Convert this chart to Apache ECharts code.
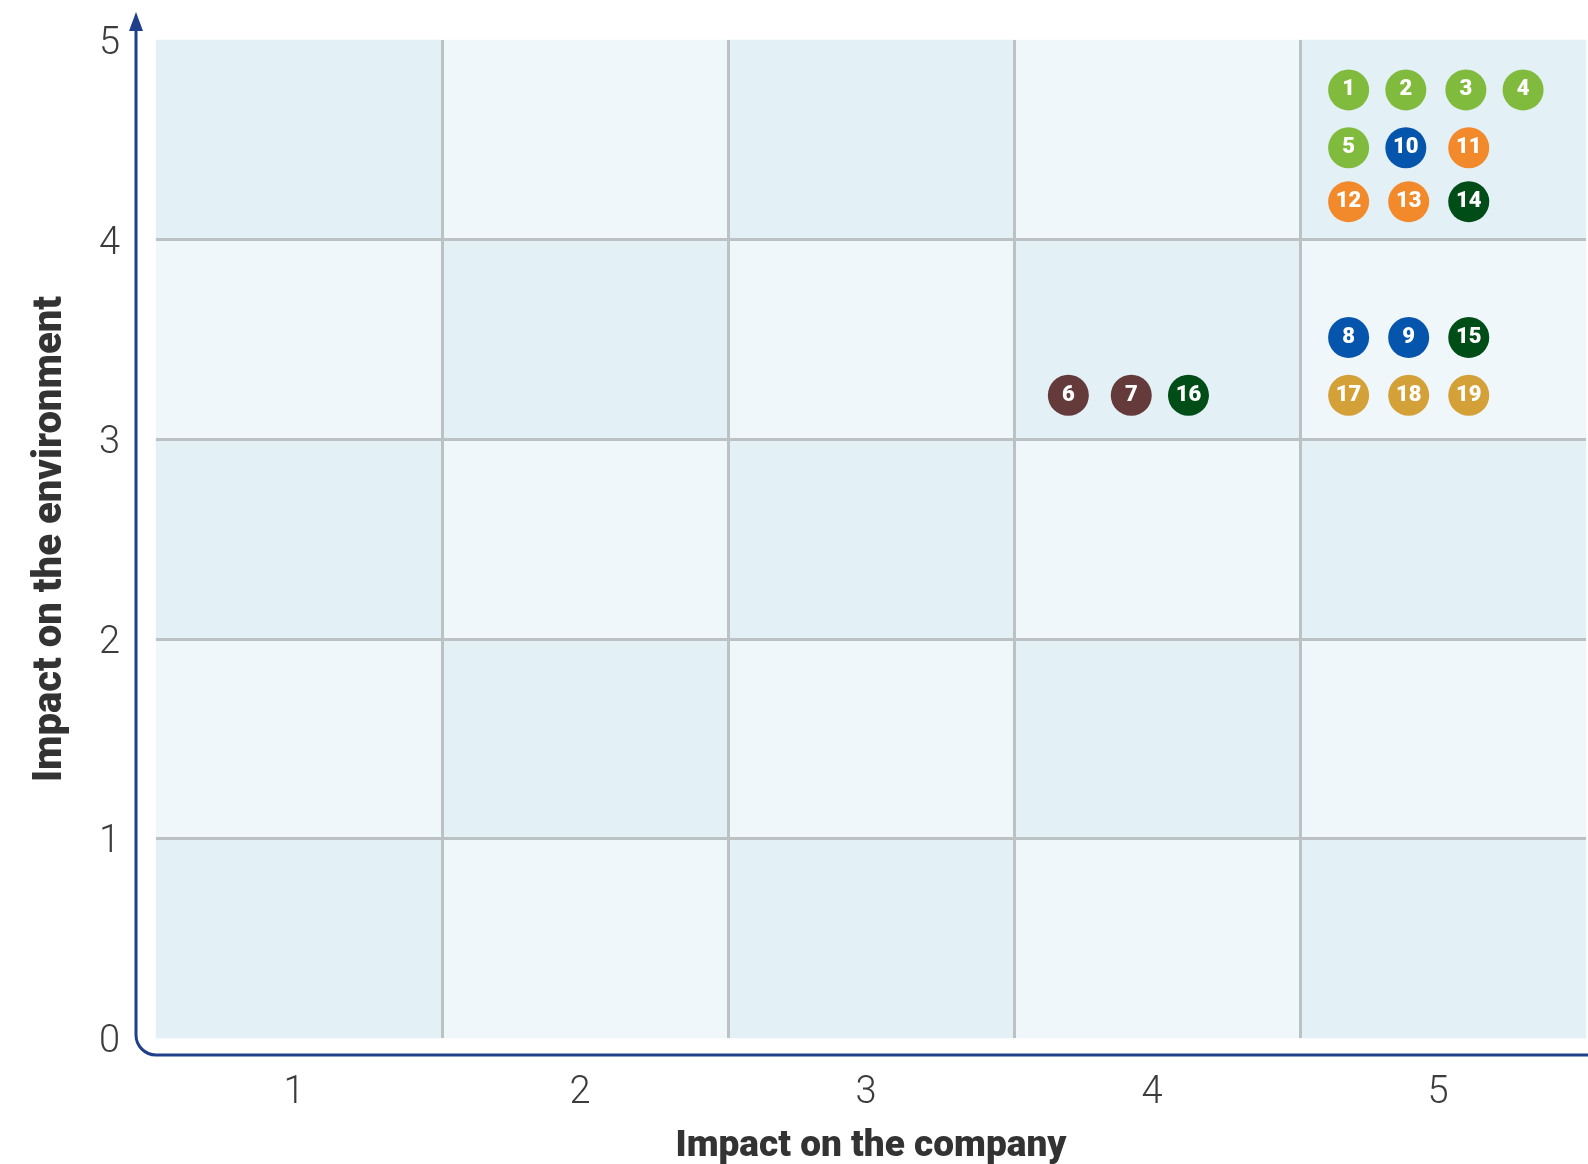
<!DOCTYPE html>
<html>
<head>
<meta charset="utf-8">
<title>Impact matrix</title>
<script src="https://cdn.jsdelivr.net/npm/echarts@6/dist/echarts.min.js"></script>
<style>
    html, body { margin: 0; padding: 0; background: #fff; }
    #chart1 { width: 1588px; height: 1164px; }
</style>
</head>
<body>
<div id="chart1"></div>
<script>
// x categories (impact on the company)
var xLabels = ['1', '2', '3', '4', '5'];
// y rows used for the shaded cells
var yRows = ['1', '2', '3', '4', '5'];
// cell shading, bottom row first (1 = darker cell)
var shadeRows = [
    [1, 0, 1, 0, 1],
    [0, 1, 0, 1, 0],
    [1, 0, 1, 0, 1],
    [0, 1, 0, 1, 0],
    [1, 0, 1, 0, 1]
];
// topics
var topicIds = ['1', '2', '3', '4', '5', '10', '11', '12', '13', '14', '8', '9', '15', '17', '18', '19', '6', '7', '16'];
var topicX = [4.17, 4.37, 4.58, 4.78, 4.17, 4.37, 4.59, 4.17, 4.38, 4.59, 4.17, 4.38, 4.59, 4.17, 4.38, 4.59, 3.19, 3.41, 3.61];
var topicY = [4.75, 4.75, 4.75, 4.75, 4.46, 4.46, 4.46, 4.19, 4.19, 4.19, 3.51, 3.51, 3.51, 3.22, 3.22, 3.22, 3.22, 3.22, 3.22];
var topicGroup = ['green', 'green', 'green', 'green', 'green', 'blue', 'orange', 'orange', 'orange', 'darkgreen',
    'blue', 'blue', 'darkgreen', 'gold', 'gold', 'gold', 'brown', 'brown', 'darkgreen'];

var groupColors = {
    green: '#80bb3d',
    blue: '#0555ad',
    orange: '#f28a2b',
    darkgreen: '#004d17',
    gold: '#d4a139',
    brown: '#643a3b'
};

var chart1 = echarts.init(document.getElementById('chart1'));

var cellData = [];
for (var r = 0; r < shadeRows.length; r++) {
    for (var c = 0; c < shadeRows[r].length; c++) {
        cellData.push([c, r, shadeRows[r][c]]);
    }
}
var bubbleData = topicIds.map(function (id, i) {
    return {
        name: id,
        value: [topicX[i], topicY[i]],
        itemStyle: { color: groupColors[topicGroup[i]], opacity: 1 }
    };
});

var axisBlue = '#1f3f8b';
var gridGray = '#bcc1c4';

var option = {
    animation: false,
    textStyle: { fontFamily: 'Roboto, "DejaVu Sans", sans-serif' },
    grid: { left: 156, right: 2, top: 40, bottom: 126, containLabel: false, outerBoundsMode: 'none' },
    visualMap: {
        type: 'piecewise',
        show: false,
        seriesIndex: 0,
        dimension: 2,
        pieces: [
            { value: 1, color: '#e3f0f6' },
            { value: 0, color: '#eff7fa' }
        ]
    },
    xAxis: [{
        type: 'category',
        data: xLabels,
        axisLine: { show: false },
        axisTick: { show: false },
        splitLine: { show: false },
        axisLabel: { fontSize: 38, fontWeight: 300, color: '#3c3c3c', margin: 36, padding: [0, 10, 0, 0] },
        name: 'Impact on the company',
        nameLocation: 'middle',
        nameGap: 90,
        nameTextStyle: { fontSize: 37, fontWeight: 900, color: '#333' }
    }, {
        type: 'value',
        min: 0,
        max: 5,
        interval: 1,
        z: 5,
        axisLine: { show: false },
        axisTick: { show: false },
        axisLabel: { show: false },
        splitLine: { show: true, showMinLine: false, showMaxLine: false, lineStyle: { color: gridGray, width: 3 } }
    }],
    yAxis: [{
        type: 'category',
        data: yRows,
        show: false
    }, {
        type: 'value',
        min: 0,
        max: 5,
        interval: 1,
        z: 5,
        position: 'left',
        axisLine: { show: false },
        axisTick: { show: false },
        // 顶部对齐 + 小行高，把数字往下挪几像素
        axisLabel: { fontSize: 38, fontWeight: 300, color: '#3c3c3c', margin: 36, verticalAlign: 'top', lineHeight: 9 },
        splitLine: { show: true, showMinLine: false, showMaxLine: false, lineStyle: { color: gridGray, width: 3 } },
        name: 'Impact on the environment',
        nameLocation: 'middle',
        nameRotate: 90,
        nameGap: 85,
        nameTextStyle: { fontSize: 40, fontWeight: 900, color: '#333' }
    }],
    graphic: [
        { type: 'polyline', z: 10, shape: { points: [[136, 28], [136, 1035]] }, style: { stroke: axisBlue, lineWidth: 3, fill: null } },
        { type: 'arc', z: 10, shape: { cx: 156, cy: 1035, r: 20, startAngle: Math.PI / 2, endAngle: Math.PI }, style: { stroke: axisBlue, lineWidth: 3, fill: null } },
        { type: 'polyline', z: 10, shape: { points: [[156, 1055], [1588, 1055]] }, style: { stroke: axisBlue, lineWidth: 3, fill: null } },
        { type: 'polygon', z: 10, shape: { points: [[129, 31], [136, 12], [143, 31]] }, style: { fill: axisBlue } }
    ],
    series: [{
        type: 'heatmap',
        xAxisIndex: 0,
        yAxisIndex: 0,
        data: cellData,
        z: 1
    }, {
        type: 'scatter',
        xAxisIndex: 1,
        yAxisIndex: 1,
        z: 10,
        symbolSize: 41,
        data: bubbleData,
        label: {
            show: true,
            position: 'inside',
            formatter: '{b}',
            color: '#fff',
            fontSize: 22,
            fontWeight: 900
        }
    }]
};
chart1.setOption(option, true);
</script>
</body>
</html>
